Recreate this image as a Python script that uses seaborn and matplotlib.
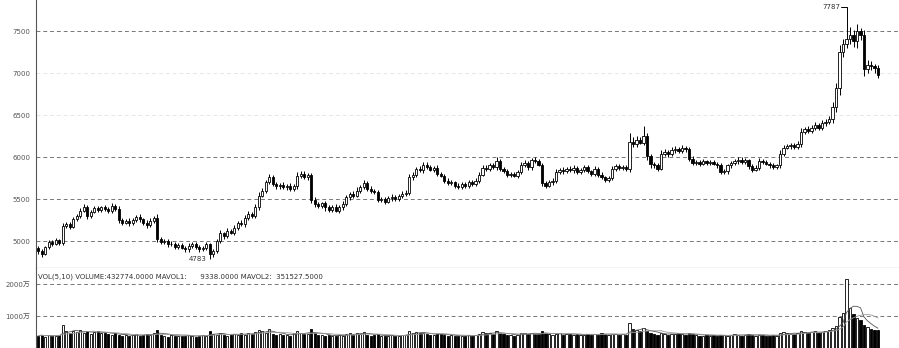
import numpy as np
import pandas as pd
import matplotlib
matplotlib.use("Agg")
import matplotlib.pyplot as plt
import seaborn as sns

# ---------------- data ----------------
first_open = 4920
closes = [
4880,4850,4930,4990,4970,5010,4980,5180,5200,5170,
5260,5300,5360,5400,5300,5350,5390,5370,5400,5380,
5360,5420,5380,5250,5220,5240,5210,5250,5290,5260,
5220,5190,5240,5280,5020,4990,5000,4960,4970,4930,
4950,4920,4900,4940,4960,4930,4900,4920,4960,4840,
4880,5000,5090,5060,5120,5100,5160,5220,5200,5280,
5320,5300,5400,5540,5600,5700,5760,5680,5650,5670,
5640,5660,5620,5650,5780,5800,5760,5790,5490,5440,
5420,5450,5400,5370,5410,5360,5400,5440,5520,5560,
5540,5600,5640,5690,5620,5600,5580,5490,5500,5470,
5510,5530,5500,5540,5560,5570,5760,5790,5860,5840,
5910,5880,5850,5870,5800,5780,5720,5690,5700,5660,
5640,5680,5660,5700,5680,5720,5790,5870,5860,5900,
5880,5950,5860,5830,5790,5800,5780,5820,5900,5930,
5880,5960,5950,5910,5690,5660,5700,5720,5820,5850,
5830,5860,5840,5870,5820,5850,5880,5830,5800,5860,
5790,5760,5730,5750,5860,5890,5870,5880,5860,6180,
6150,6200,6170,6250,6010,5920,5900,5860,6040,6060,
6030,6080,6100,6070,6110,6090,5980,5930,5940,5920,
5950,5930,5940,5920,5900,5820,5830,5900,5930,5950,
5970,5940,5960,5890,5850,5870,5950,5940,5920,5900,
5880,5900,6040,6110,6130,6140,6120,6150,6300,6330,
6310,6350,6380,6350,6400,6420,6450,6600,6820,7250,
7350,7400,7450,7380,7500,7450,7050,7100,7080,7060,
6980]
wick_up = [
20,30,15,25,20,30,20,40,30,25,
30,20,35,40,25,20,30,25,20,30,
25,35,20,40,20,25,30,20,25,30,
20,25,30,20,40,25,20,30,25,20,
30,25,20,35,25,30,20,25,30,20,
25,30,40,20,30,25,35,20,30,25,
40,30,35,40,30,25,35,30,20,25,
30,20,25,30,40,35,30,25,20,30,
25,20,30,25,20,30,25,35,30,25,
30,40,30,35,25,30,20,25,30,20,
25,30,20,25,30,35,40,30,25,30,
35,30,25,20,30,25,20,30,25,20,
30,25,20,30,25,30,35,40,30,25,
30,45,25,20,30,25,20,30,35,30,
25,30,35,25,20,30,25,30,35,25,
30,25,30,35,25,20,30,25,20,30,
25,30,20,25,35,30,25,30,20,100,
60,50,40,120,30,25,20,30,40,30,
25,35,30,25,30,20,25,30,20,25,
30,20,25,30,20,25,30,20,25,30,
35,25,30,20,25,30,35,25,20,25,
30,20,40,35,30,25,30,40,45,30,
35,30,40,30,35,30,40,50,60,80,
60,387,100,60,80,40,60,50,40,30,
30]
wick_dn = [
30,40,20,25,30,20,25,30,25,30,
20,25,30,20,35,25,20,30,25,20,
30,25,20,30,25,20,30,25,20,30,
25,30,20,25,30,20,25,30,20,25,
30,20,25,30,20,25,30,20,25,57,
30,25,20,30,25,20,30,25,20,30,
25,20,30,25,20,30,25,20,30,25,
20,30,25,20,30,25,20,30,40,30,
25,30,40,30,25,20,30,25,20,30,
25,20,30,25,20,30,25,20,30,25,
20,30,25,20,30,25,20,30,25,20,
30,25,20,30,25,20,30,25,20,30,
25,20,30,25,20,30,25,20,30,25,
20,30,25,20,30,25,20,30,25,20,
40,30,25,20,30,25,20,30,25,20,
30,25,20,30,25,20,30,25,20,30,
25,20,30,25,20,30,25,20,30,40,
30,25,20,30,40,50,30,25,20,30,
25,20,30,25,20,30,25,20,30,25,
20,30,25,20,30,25,20,30,25,20,
30,25,20,30,25,20,30,25,20,30,
25,20,30,25,20,30,25,20,30,25,
30,25,30,25,30,25,30,40,60,80,
60,50,60,70,80,60,80,50,40,60,
40]
volumes = [
380,420,350,400,360,390,410,720,520,480,
540,500,560,470,520,450,500,530,480,460,
440,420,480,400,380,420,360,400,430,390,
410,450,400,480,560,420,380,350,400,370,
390,360,380,420,370,340,380,410,390,520,
450,420,480,400,380,420,450,400,460,420,
480,440,500,560,520,480,600,450,420,440,
400,420,380,460,520,480,430,450,580,470,
420,400,380,410,360,390,420,380,440,460,
420,480,440,500,420,390,400,430,380,360,
380,400,370,390,420,410,520,480,500,460,
480,440,420,400,430,450,420,380,400,370,
360,390,380,400,370,410,450,500,460,480,
440,520,470,430,410,400,380,420,460,480,
440,470,450,430,520,470,430,410,440,460,
420,450,430,410,440,420,400,430,410,450,
420,460,430,400,450,440,420,430,410,780,
600,560,520,620,540,480,440,420,460,440,
420,450,430,460,440,420,460,430,400,380,
390,410,380,400,370,420,400,380,410,430,
400,390,420,440,400,380,420,410,390,370,
400,380,460,500,470,450,430,460,540,500,
480,500,520,480,510,540,560,620,700,980,
1100,2150,1250,1050,950,880,720,650,600,560,
560]

price_ticks = [5000, 5500, 6000, 6500, 7000, 7500]
vol_ticks = [1000, 2000]
vol_tick_labels = ["1000万", "2000万"]
vol_header = "VOL(5,10) VOLUME:432774.0000 MAVOL1:      9338.0000 MAVOL2:  351527.5000"

# ---------------- derived frame ----------------
n = len(closes)
df = pd.DataFrame({"close": closes, "vol": volumes})
df["idx"] = np.arange(n)
df["open"] = [first_open] + closes[:-1]
df["top"] = df[["open", "close"]].max(axis=1)
df["bot"] = df[["open", "close"]].min(axis=1)
df["high"] = df["top"] + np.array(wick_up)
df["low"] = df["bot"] - np.array(wick_dn)
df["up"] = df["close"] >= df["open"]
df["ma5"] = df["vol"].rolling(5, min_periods=1).mean()
df["ma10"] = df["vol"].rolling(10, min_periods=1).mean()

# ---------------- style ----------------
sns.set_theme(style="white")
plt.rcParams["font.family"] = ["DejaVu Sans", "Noto Sans CJK SC"]

W, H = 899, 348
fig = plt.figure(figsize=(W / 100, H / 100), dpi=100)
left = 36 / W
ax = fig.add_axes([left, 80 / H, 1 - left, 268 / H])
axv = fig.add_axes([left, 0, 1 - left, 80 / H], sharex=ax)

bw = 0.6
for a in (ax, axv):
    for s in ("top", "right"):
        a.spines[s].set_visible(False)
    a.spines["left"].set_color("#555555")
    a.spines["left"].set_linewidth(0.8)
    a.tick_params(axis="y", direction="out", length=3, width=0.6,
                  colors="#555555", labelsize=5, pad=1)
    a.tick_params(axis="x", bottom=False, labelbottom=False)
ax.spines["bottom"].set_color("#444444")
ax.spines["bottom"].set_linewidth(0.8)
axv.spines["bottom"].set_visible(False)

# ---------------- price panel ----------------
for t in price_ticks:
    c = "#e6e6e6" if t in (6500, 7000) else "#777777"
    ax.axhline(t, color=c, lw=0.7, ls=(0, (4, 3)), zorder=0)

ax.vlines(df["idx"], df["low"], df["high"], color="black", lw=0.7, zorder=2)
upd = df[df["up"]]
dnd = df[~df["up"]]
ax.bar(upd["idx"], (upd["top"] - upd["bot"]).clip(lower=4), bottom=upd["bot"],
       width=bw, facecolor="white", edgecolor="black", linewidth=0.6, zorder=3)
ax.bar(dnd["idx"], (dnd["top"] - dnd["bot"]).clip(lower=4), bottom=dnd["bot"],
       width=bw, facecolor="black", edgecolor="black", linewidth=0.6, zorder=3)

ax.set_xlim(-0.6, (W - 38) / 3.5)
ax.set_ylim(4679, 7869)
ax.set_yticks(price_ticks)
ax.set_yticklabels([str(t) for t in price_ticks])

# high / low annotations
hi_i = int(df["high"].idxmax())
lo_i = int(df["low"].idxmin())
hi_v = df.loc[hi_i, "high"]
lo_v = df.loc[lo_i, "low"]
ax.plot([hi_i - 1.6, hi_i], [hi_v, hi_v], color="black", lw=0.7)
ax.text(hi_i - 1.8, hi_v, f"{int(hi_v)}", ha="right", va="center",
        fontsize=5, color="#333333")
ax.text(lo_i - 1.0, lo_v, f"{int(lo_v)}", ha="right", va="center",
        fontsize=5, color="#333333")

# ---------------- volume panel ----------------
for t in vol_ticks:
    axv.axhline(t, color="#777777", lw=0.7, ls=(0, (4, 3)), zorder=0)
vu = df[df["up"]]
vd = df[~df["up"]]
axv.bar(vu["idx"], vu["vol"], width=bw, facecolor="white", edgecolor="black",
        linewidth=0.6, zorder=2)
axv.bar(vd["idx"], vd["vol"], width=bw, facecolor="black", edgecolor="black",
        linewidth=0.6, zorder=2)
sns.lineplot(data=df, x="idx", y="ma5", ax=axv, color="#555555", lw=0.6, zorder=4)
sns.lineplot(data=df, x="idx", y="ma10", ax=axv, color="#999999", lw=0.6, zorder=4)
axv.set_ylim(0, 2500)
axv.set_yticks(vol_ticks)
axv.set_yticklabels(vol_tick_labels)
axv.set_xlabel("")
axv.set_ylabel("")
ax.set_ylabel("")
axv.text(0.002, 0.89, vol_header, transform=axv.transAxes, ha="left", va="center",
         fontsize=5, color="#333333")

fig.savefig("out.png", dpi=100)
